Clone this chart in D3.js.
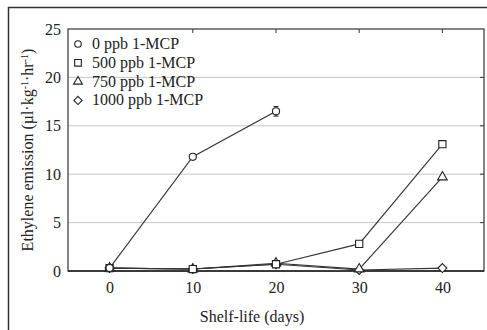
<!DOCTYPE html>
<html>
<head>
<meta charset="utf-8">
<script src="https://cdn.jsdelivr.net/npm/d3@7"></script>
<style>
  body { margin: 0; background: #fff; }
  text { font-family: "Liberation Serif", "Times New Roman", serif; fill: #222; }
</style>
</head>
<body>
<svg id="chart" width="487" height="330"></svg>
<script>
// shelf-life days on the x axis
let days = [0, 10, 20, 30, 40];

// ethylene emission (µl·kg-1·hr-1) per treatment
let mcp0 = [0.3, 11.8, 16.5];
let mcp0Err = [0, 0.2, 0.5];
let mcp500 = [0.3, 0.2, 0.7, 2.8, 13.1];
let mcp750 = [0.3, 0.2, 0.8, 0.2, 9.7];
let mcp1000 = [0.3, 0.2, 0.7, 0.1, 0.3];

let seriesNames = ["0 ppb 1-MCP", "500 ppb 1-MCP", "750 ppb 1-MCP", "1000 ppb 1-MCP"];
let yTicks = [0, 5, 10, 15, 20, 25];

let margin = {left: 68, right: 3, top: 29, bottom: 59};
let width = 487, height = 330;

let svg = d3.select("#chart");

// outer frame of the figure
svg.append("path")
	.attr("d", "M8.5,330 V7.5 H487")
	.attr("fill", "none")
	.attr("stroke", "#333")
	.attr("stroke-width", 1.5);

let x = d3.scaleLinear()
	.domain([-5, 45])
	.range([margin.left, width - margin.right]);

let y = d3.scaleLinear()
	.domain([0, 25])
	.range([height - margin.bottom, margin.top]);

// grid lines
svg.append("g")
	.selectAll("line")
	.data(yTicks.filter(d => d > 0 && d < 25))
	.enter()
	.append("line")
	.attr("x1", x(-5)).attr("x2", x(45))
	.attr("y1", d => y(d)).attr("y2", d => y(d))
	.attr("stroke", "#c8c8c8")
	.attr("stroke-width", 1);

// axes
let xAxis = svg.append("g")
	.attr("transform", "translate(0," + y(0) + ")")
	.call(d3.axisBottom(x).tickValues(days).tickSize(0).tickPadding(11));
let yAxis = svg.append("g")
	.attr("transform", "translate(" + x(-5) + ",0)")
	.call(d3.axisLeft(y).tickValues(yTicks).tickSize(0).tickPadding(7));

[xAxis, yAxis].forEach(a => {
	a.select(".domain").remove();
	a.selectAll("text").style("font-size", "16px").attr("fill", "#222");
});

// inside ticks on top and right
svg.append("g")
	.selectAll("line")
	.data(days.slice(1))
	.enter()
	.append("line")
	.attr("x1", d => x(d)).attr("x2", d => x(d))
	.attr("y1", y(25)).attr("y2", y(25) + 4)
	.attr("stroke", "#333");
svg.append("g")
	.selectAll("line")
	.data(yTicks.slice(1, 5))
	.enter()
	.append("line")
	.attr("x1", x(45)).attr("x2", x(45) - 4)
	.attr("y1", d => y(d)).attr("y2", d => y(d))
	.attr("stroke", "#333");

// plot border
svg.append("rect")
	.attr("x", x(-5)).attr("y", y(25))
	.attr("width", x(45) - x(-5)).attr("height", y(0) - y(25))
	.attr("fill", "none")
	.attr("stroke", "#444")
	.attr("stroke-width", 1.3);
svg.append("line")
	.attr("x1", x(-5)).attr("x2", x(45))
	.attr("y1", y(0)).attr("y2", y(0))
	.attr("stroke", "#222")
	.attr("stroke-width", 1.6);

let line = d3.line()
	.x(d => x(d.day))
	.y(d => y(d.v));

// square diamond (d3's own diamond is tall and narrow)
let squareDiamond = {
	draw(ctx, size) {
		let r = Math.sqrt(size / 2);
		ctx.moveTo(0, -r);
		ctx.lineTo(r, 0);
		ctx.lineTo(0, r);
		ctx.lineTo(-r, 0);
		ctx.closePath();
	}
};

let series = [
	{name: seriesNames[0], vals: mcp0, sym: d3.symbolCircle, size: 40},
	{name: seriesNames[1], vals: mcp500, sym: d3.symbolSquare, size: 52},
	{name: seriesNames[2], vals: mcp750, sym: d3.symbolTriangle, size: 40},
	{name: seriesNames[3], vals: mcp1000, sym: squareDiamond, size: 40}
];

let toPts = vals => vals.map((v, i) => ({day: days[i], v: v}));

// lines first, drawn back to front
series.slice().reverse().forEach(s => {
	svg.append("path")
		.datum(toPts(s.vals))
		.attr("d", line)
		.attr("fill", "none")
		.attr("stroke", "#333")
		.attr("stroke-width", 1.1);
});

// error bars for 0 ppb
svg.append("g")
	.selectAll("g")
	.data(toPts(mcp0).map((d, i) => ({day: d.day, v: d.v, e: mcp0Err[i]})).filter(d => d.e > 0))
	.enter()
	.each(function(d) {
		let g = d3.select(this);
		g.append("line")
			.attr("x1", x(d.day)).attr("x2", x(d.day))
			.attr("y1", y(d.v - d.e)).attr("y2", y(d.v + d.e))
			.attr("stroke", "#222");
		[d.v - d.e, d.v + d.e].forEach(t => {
			g.append("line")
				.attr("x1", x(d.day) - 2.5).attr("x2", x(d.day) + 2.5)
				.attr("y1", y(t)).attr("y2", y(t))
				.attr("stroke", "#222");
		});
	});

// markers
series.slice().reverse().forEach(s => {
	svg.append("g")
		.selectAll("path")
		.data(toPts(s.vals))
		.enter()
		.append("path")
		.attr("d", d3.symbol().type(s.sym).size(s.size))
		.attr("transform", d => "translate(" + x(d.day) + "," + y(d.v) + ")")
		.attr("fill", "#fff")
		.attr("stroke", "#222")
		.attr("stroke-width", 1.1);
});

// legend
let legend = svg.append("g")
	.selectAll("g")
	.data(series)
	.enter()
	.append("g")
	.attr("transform", (d, i) => "translate(78," + (44 + i * 18.8) + ")");
legend.append("path")
	.attr("d", d => d3.symbol().type(d.sym).size(d.size * 0.85)())
	.attr("fill", "#fff")
	.attr("stroke", "#222")
	.attr("stroke-width", 1.1);
legend.append("text")
	.attr("x", 14)
	.attr("y", 5)
	.style("font-size", "16px")
	.text(d => d.name);

// axis titles
svg.append("text")
	.attr("x", 252)
	.attr("y", 322)
	.attr("text-anchor", "middle")
	.style("font-size", "16px")
	.text("Shelf-life (days)");

let yl = svg.append("text")
	.attr("transform", "translate(33," + 150 + ") rotate(-90)")
	.attr("text-anchor", "middle")
	.style("font-size", "16px");
yl.append("tspan").text("Ethylene emission (µl·kg");
yl.append("tspan").attr("baseline-shift", "super").style("font-size", "10px").text("-1");
yl.append("tspan").text("·hr");
yl.append("tspan").attr("baseline-shift", "super").style("font-size", "10px").text("-1");
yl.append("tspan").text(")");
</script>
</body>
</html>
